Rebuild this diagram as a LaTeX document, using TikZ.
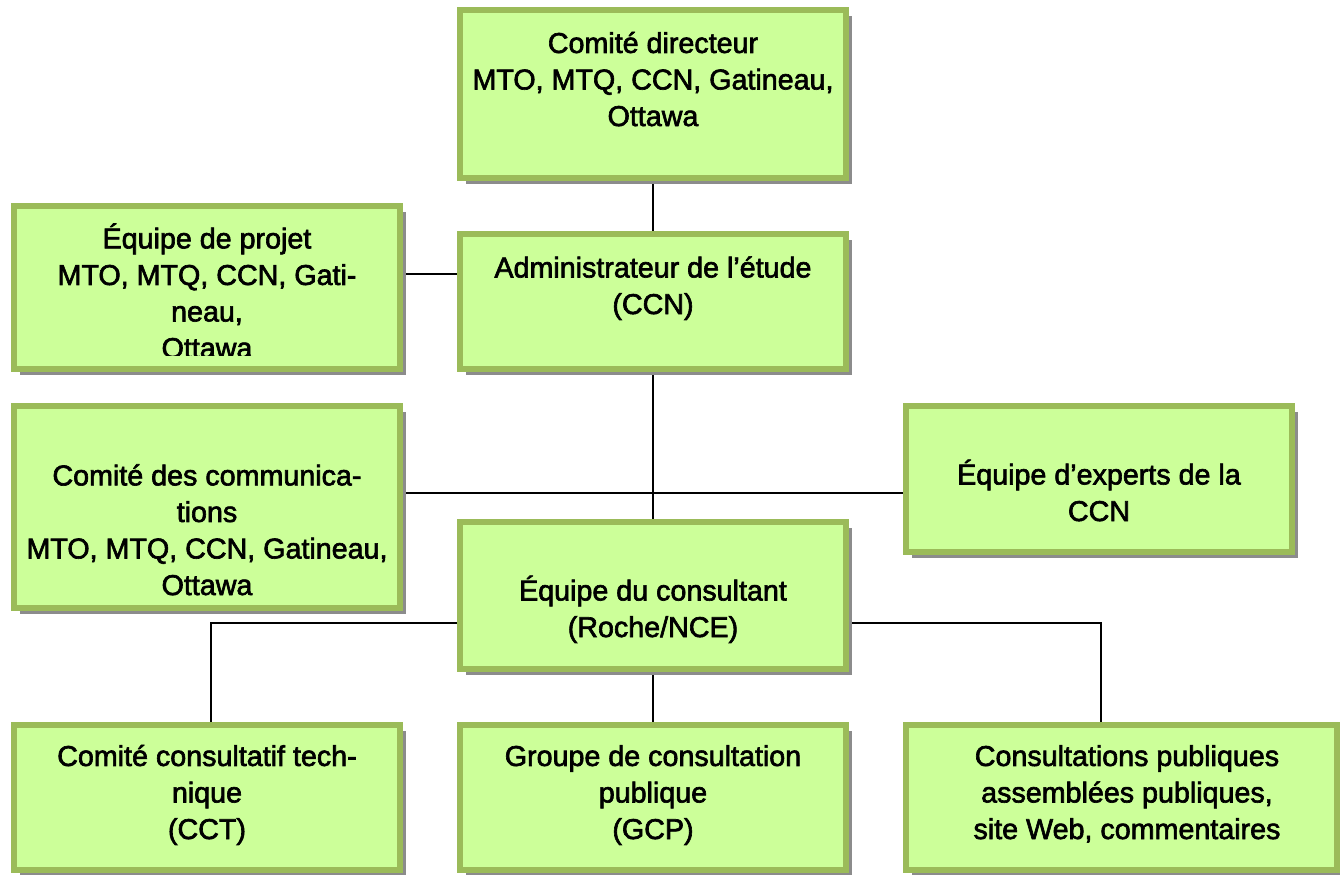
\documentclass[tikz,border=0pt]{standalone}
\usepackage{fontspec}
\setmainfont{Liberation Sans}[BoldFont=Liberation Sans, BoldFeatures={FakeBold=2.2}]
\usetikzlibrary{shadows,backgrounds,calc}

\definecolor{boxfill}{RGB}{204,255,153}
\definecolor{boxline}{RGB}{155,187,89}
\definecolor{boxshade}{RGB}{140,140,140}

\tikzset{
  orgbox/.style={rectangle, draw=boxline, line width=4.5pt, fill=boxfill,
    inner sep=0pt, minimum width=289.5pt,
    drop shadow={shadow xshift=4.5pt, shadow yshift=-4.5pt, fill=boxshade, opacity=1}},
  % base = baseline of the last line
  orgtext/.style={anchor=base, align=center, inner sep=0pt,
    font=\fontsize{21.5}{27.4}\selectfont\bfseries},
  link/.style={line width=0.9pt},
  linkbold/.style={line width=1.4pt},
}

\begin{document}
\begin{tikzpicture}[x=0.75pt,y=0.75pt,yscale=-1,xscale=1]
\useasboundingbox (0,0) rectangle (1340,875);

% Boxes
\node[orgbox, minimum height=126pt]    (directeur)  at (653,94)    {};
\node[orgbox, minimum height=122.25pt] (projet)     at (207,287.5) {};
\node[orgbox, minimum height=101.25pt] (admin)      at (653,301.5) {};
\node[orgbox, minimum height=151.5pt]  (comm)       at (207,507)   {};
\node[orgbox, minimum height=109.5pt]  (experts)    at (1099,479)  {};
\node[orgbox, minimum height=110.25pt] (consultant) at (653,595.5) {};
\node[orgbox, minimum height=108.75pt] (cct)        at (207,797.5) {};
\node[orgbox, minimum height=108.75pt] (gcp)        at (653,797.5) {};
\node[orgbox, minimum height=108.75pt, minimum width=323.25pt] (pub) at (1121.5,797.5) {};

% Texts
\node[orgtext] (directeur-t) at (653,126) {Comité directeur\\MTO, MTQ, CCN, Gatineau,\\Ottawa};
\begin{scope}
  \clip (14,206) rectangle (400,355);
  \node[orgtext] (projet-t) at (207,358) {Équipe de projet\\MTO, MTQ, CCN, Gati-\\neau,\\Ottawa};
\end{scope}
\node[orgtext] (admin-t) at (653,314) {Administrateur de l’étude\\(CCN)};
\node[orgtext] (comm-t) at (207,595) {Comité des communica-\\tions\\MTO, MTQ, CCN, Gatineau,\\Ottawa};
\node[orgtext] (experts-t) at (1099,521) {Équipe d’experts de la\\CCN};
\node[orgtext] (consultant-t) at (653,637) {Équipe du consultant\\(Roche/NCE)};
\node[orgtext] (cct-t) at (207,839) {Comité consultatif tech-\\nique\\(CCT)};
\node[orgtext] (gcp-t) at (653,839) {Groupe de consultation\\publique\\(GCP)};
\node[orgtext] (pub-t) at (1127,839) {Consultations publiques\\assemblées publiques,\\site Web, commentaires};

% Connectors
\begin{scope}[on background layer]
\coordinate (mid) at ($(comm.east)!.5!(experts.west)$);
\draw[link] (directeur.south) -- (admin.north);
\draw[linkbold] (projet.east |- 0,274) -- (admin.west |- 0,274);
\draw[link] (admin.south) -- (consultant.north);
\draw[linkbold] (comm.east |- mid) -- (experts.west |- mid);
\draw[link] (consultant.west |- 0,623) -| (cct.north -| 211,0);
\draw[link] (consultant.east |- 0,623) -| (pub.north -| 1101,0);
\draw[link] (consultant.south) -- (gcp.north);
\end{scope}
\end{tikzpicture}
\end{document}
